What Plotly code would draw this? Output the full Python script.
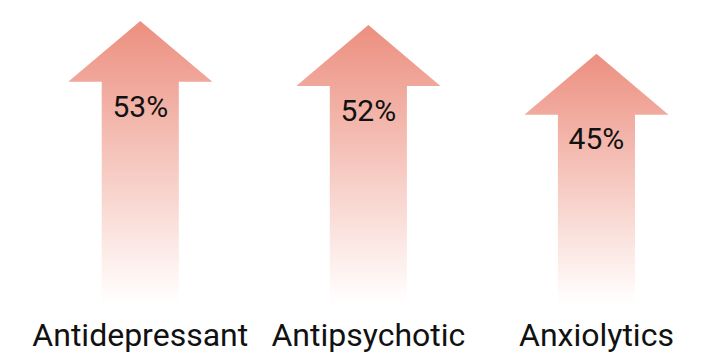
import plotly.graph_objects as go

# ---- data ----
categories = ["Antidepressant", "Antipsychotic", "Anxiolytics"]
values = [53, 52, 45]
value_labels = ["53%", "52%", "45%"]

# ---- style / layout constants ----
BASE = -16.7          # arrow base on the value axis
HEAD_H = 14.8         # head height in value units
HEAD_HALF = 0.316     # head half-width in category units
SHAFT_HALF = 0.169    # shaft half-width in category units
LABEL_DROP = 21.4     # percent label offset below tip (value units)
TOP_COLOR = "#EC8F7F"
FONT = "Roboto"

fig = go.Figure()

for i, v in enumerate(values):
    neck = v - HEAD_H
    xs = [i - SHAFT_HALF, i - SHAFT_HALF, i - HEAD_HALF, i, i + HEAD_HALF,
          i + SHAFT_HALF, i + SHAFT_HALF, i - SHAFT_HALF]
    ys = [BASE, neck, neck, v, neck, neck, BASE, BASE]
    fig.add_trace(go.Scatter(
        x=xs, y=ys, mode="lines", fill="toself",
        line=dict(width=0, color="rgba(0,0,0,0)"),
        fillgradient=dict(type="vertical",
                          colorscale=[[0, "rgba(255,255,255,1)"],
                                      [0.04, "rgba(255,253,252,1)"],
                                      [1, TOP_COLOR]]),
        hoverinfo="skip", showlegend=False,
    ))

fig.add_trace(go.Scatter(
    x=list(range(len(values))),
    y=[v - LABEL_DROP for v in values],
    mode="text", text=value_labels,
    textfont=dict(family=FONT, size=30, color="#111111"),
    textposition="middle center",
    hoverinfo="skip", showlegend=False,
))

fig.update_layout(
    width=713, height=358,
    margin=dict(l=0, r=0, t=0, b=50),
    paper_bgcolor="white", plot_bgcolor="white",
    xaxis=dict(range=[-0.615, 2.511], tickmode="array",
               tickvals=list(range(len(categories))), ticktext=categories,
               showgrid=False, zeroline=False, showline=False, ticks="",
               ticklabelstandoff=5,
               tickfont=dict(family=FONT, size=32, color="#111111")),
    yaxis=dict(range=[BASE, 58.07], visible=False,
               showgrid=False, zeroline=False),
)

fig.write_html("out.html")
